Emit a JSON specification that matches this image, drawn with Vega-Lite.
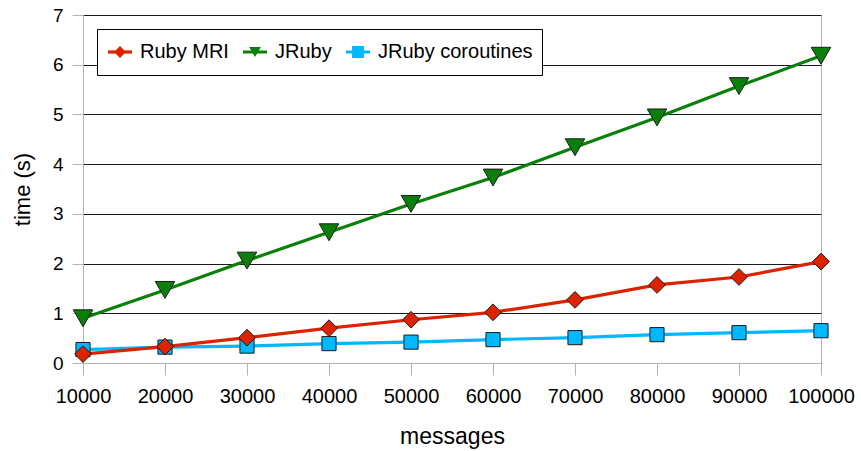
{
  "$schema": "https://vega.github.io/schema/vega-lite/v6.json",
  "autosize": "none",
  "width": 738,
  "height": 348,
  "padding": {"left": 83, "top": 15, "right": 40, "bottom": 88},
  "background": "white",
  "config": {
    "font": "Liberation Sans",
    "view": {"stroke": "#b3b3b3", "strokeWidth": 1}
  },
  "data": {
    "values": [
      {"messages": 10000, "series": "JRuby coroutines", "time": 0.27},
      {"messages": 20000, "series": "JRuby coroutines", "time": 0.32},
      {"messages": 30000, "series": "JRuby coroutines", "time": 0.34},
      {"messages": 40000, "series": "JRuby coroutines", "time": 0.39},
      {"messages": 50000, "series": "JRuby coroutines", "time": 0.42},
      {"messages": 60000, "series": "JRuby coroutines", "time": 0.47},
      {"messages": 70000, "series": "JRuby coroutines", "time": 0.51},
      {"messages": 80000, "series": "JRuby coroutines", "time": 0.57},
      {"messages": 90000, "series": "JRuby coroutines", "time": 0.61},
      {"messages": 100000, "series": "JRuby coroutines", "time": 0.65},
      {"messages": 10000, "series": "JRuby", "time": 0.9},
      {"messages": 20000, "series": "JRuby", "time": 1.47},
      {"messages": 30000, "series": "JRuby", "time": 2.06},
      {"messages": 40000, "series": "JRuby", "time": 2.63},
      {"messages": 50000, "series": "JRuby", "time": 3.2},
      {"messages": 60000, "series": "JRuby", "time": 3.73},
      {"messages": 70000, "series": "JRuby", "time": 4.34},
      {"messages": 80000, "series": "JRuby", "time": 4.94},
      {"messages": 90000, "series": "JRuby", "time": 5.57},
      {"messages": 100000, "series": "JRuby", "time": 6.18},
      {"messages": 10000, "series": "Ruby MRI", "time": 0.18},
      {"messages": 20000, "series": "Ruby MRI", "time": 0.33},
      {"messages": 30000, "series": "Ruby MRI", "time": 0.51},
      {"messages": 40000, "series": "Ruby MRI", "time": 0.7},
      {"messages": 50000, "series": "Ruby MRI", "time": 0.87},
      {"messages": 60000, "series": "Ruby MRI", "time": 1.02},
      {"messages": 70000, "series": "Ruby MRI", "time": 1.27},
      {"messages": 80000, "series": "Ruby MRI", "time": 1.57},
      {"messages": 90000, "series": "Ruby MRI", "time": 1.73},
      {"messages": 100000, "series": "Ruby MRI", "time": 2.04}
    ]
  },
  "encoding": {
    "x": {
      "field": "messages",
      "type": "quantitative",
      "scale": {"domain": [10000, 100000], "nice": false, "zero": false},
      "axis": {
        "title": "messages",
        "values": [10000, 20000, 30000, 40000, 50000, 60000, 70000, 80000, 90000, 100000],
        "format": "d",
        "grid": false,
        "domainColor": "#b3b3b3",
        "tickColor": "#b3b3b3",
        "tickSize": 12,
        "labelPadding": 11,
        "labelFontSize": 20,
        "labelColor": "#000",
        "labelFlush": false,
        "labelOverlap": false,
        "titleFontSize": 23,
        "titleFontWeight": "normal",
        "titleColor": "#000",
        "titlePadding": 19
      }
    },
    "y": {
      "field": "time",
      "type": "quantitative",
      "scale": {"domain": [0, 7], "nice": false},
      "axis": {
        "title": "time (s)",
        "values": [0, 1, 2, 3, 4, 5, 6, 7],
        "grid": true,
        "gridColor": "#1a1a1a",
        "gridWidth": 1,
        "domainColor": "#b3b3b3",
        "tickColor": "#b3b3b3",
        "tickSize": 11,
        "labelPadding": 9,
        "labelFontSize": 19,
        "labelColor": "#000",
        "titleFontSize": 22,
        "titleFontWeight": "normal",
        "titleColor": "#000",
        "titlePadding": 18
      }
    }
  },
  "layer": [
    {
      "mark": {"type": "line", "strokeWidth": 3.2},
      "encoding": {
        "color": {
          "field": "series",
          "type": "nominal",
          "scale": {
            "domain": ["Ruby MRI", "JRuby", "JRuby coroutines"],
            "range": ["#dd2200", "#0a800a", "#00b8ff"]
          },
          "legend": {
            "title": null,
            "orient": "none",
            "legendX": 14,
            "legendY": 14,
            "direction": "horizontal",
            "symbolType": "M-1.5,0L1.5,0",
            "symbolSize": 256,
            "symbolStrokeWidth": 3.2,
            "symbolOffset": 4,
            "clipHeight": 28,
            "labelFontSize": 20,
            "labelColor": "#000",
            "labelOffset": 10,
            "columnPadding": 12,
            "padding": 9,
            "strokeColor": "#000",
            "fillColor": "#fff"
          }
        }
      }
    },
    {
      "transform": [{"filter": "datum.series === 'JRuby coroutines'"}],
      "mark": {"type": "point", "filled": true, "opacity": 1, "stroke": "#1a1a1a", "strokeWidth": 1, "size": 200},
      "encoding": {
        "shape": {
          "field": "series",
          "type": "nominal",
          "scale": {
            "domain": ["Ruby MRI", "JRuby", "JRuby coroutines"],
            "range": ["diamond", "triangle-down", "square"]
          },
          "legend": {
            "title": null,
            "orient": "top-left",
            "offset": 14,
            "direction": "horizontal",
            "symbolSize": 140,
            "symbolStrokeWidth": 1,
            "symbolStrokeColor": "#1a1a1a",
            "symbolOffset": 4,
            "clipHeight": 28,
            "labelFontSize": 20,
            "labelOpacity": 0,
            "labelOffset": 10,
            "columnPadding": 12,
            "padding": 9
          }
        },
        "fill": {
          "field": "series",
          "type": "nominal",
          "scale": {
            "domain": ["Ruby MRI", "JRuby", "JRuby coroutines"],
            "range": ["#dd2200", "#0a800a", "#00b8ff"]
          },
          "legend": null
        }
      }
    },
    {
      "transform": [{"filter": "datum.series === 'JRuby'"}],
      "mark": {"type": "point", "filled": true, "opacity": 1, "stroke": "#1a1a1a", "strokeWidth": 1, "size": 380},
      "encoding": {
        "shape": {
          "field": "series",
          "type": "nominal",
          "scale": {
            "domain": ["Ruby MRI", "JRuby", "JRuby coroutines"],
            "range": ["diamond", "triangle-down", "square"]
          },
          "legend": {
            "title": null,
            "orient": "top-left",
            "offset": 14,
            "direction": "horizontal",
            "symbolSize": 140,
            "symbolStrokeWidth": 1,
            "symbolStrokeColor": "#1a1a1a",
            "symbolOffset": 4,
            "clipHeight": 28,
            "labelFontSize": 20,
            "labelOpacity": 0,
            "labelOffset": 10,
            "columnPadding": 12,
            "padding": 9
          }
        },
        "fill": {
          "field": "series",
          "type": "nominal",
          "scale": {
            "domain": ["Ruby MRI", "JRuby", "JRuby coroutines"],
            "range": ["#dd2200", "#0a800a", "#00b8ff"]
          },
          "legend": null
        }
      }
    },
    {
      "transform": [{"filter": "datum.series === 'Ruby MRI'"}],
      "mark": {"type": "point", "filled": true, "opacity": 1, "stroke": "#1a1a1a", "strokeWidth": 1, "size": 280},
      "encoding": {
        "shape": {
          "field": "series",
          "type": "nominal",
          "scale": {
            "domain": ["Ruby MRI", "JRuby", "JRuby coroutines"],
            "range": ["diamond", "triangle-down", "square"]
          },
          "legend": {
            "title": null,
            "orient": "top-left",
            "offset": 14,
            "direction": "horizontal",
            "symbolSize": 140,
            "symbolStrokeWidth": 1,
            "symbolStrokeColor": "#1a1a1a",
            "symbolOffset": 4,
            "clipHeight": 28,
            "labelFontSize": 20,
            "labelOpacity": 0,
            "labelOffset": 10,
            "columnPadding": 12,
            "padding": 9
          }
        },
        "fill": {
          "field": "series",
          "type": "nominal",
          "scale": {
            "domain": ["Ruby MRI", "JRuby", "JRuby coroutines"],
            "range": ["#dd2200", "#0a800a", "#00b8ff"]
          },
          "legend": null
        }
      }
    }
  ]
}
